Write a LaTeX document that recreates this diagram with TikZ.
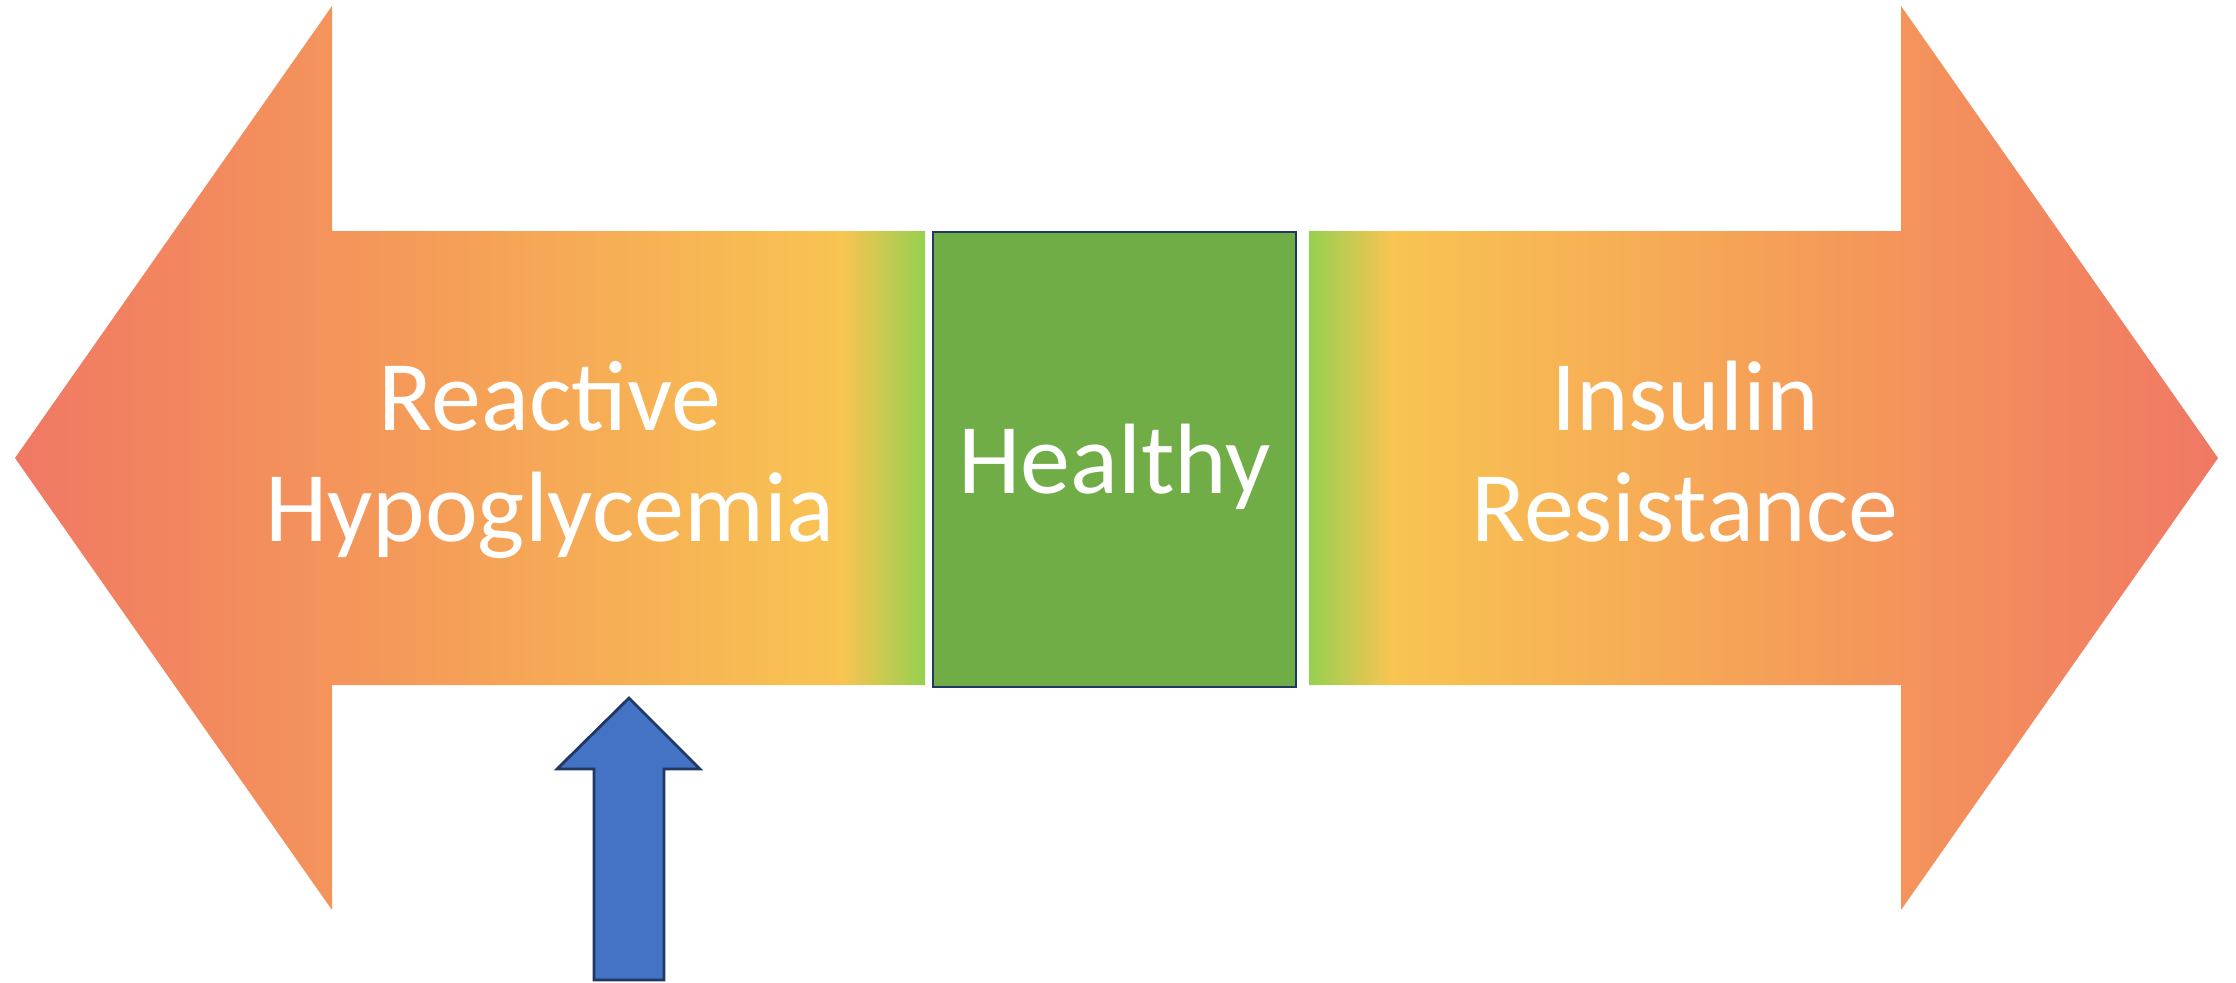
\documentclass[tikz,border=0pt]{standalone}
\usepackage{fontspec}
\setmainfont{Carlito}
\definecolor{cred}{RGB}{240,120,100}
\definecolor{corange}{RGB}{245,158,88}
\definecolor{cyellow}{RGB}{248,196,82}
\definecolor{cgreen}{RGB}{150,208,80}
\definecolor{boxgreen}{RGB}{112,173,71}
\definecolor{navy}{RGB}{31,56,100}
\definecolor{arrowblue}{RGB}{68,114,196}
\pgfdeclarehorizontalshading{leftgrad}{100bp}{color(0bp)=(cred); color(25bp)=(cred); color(48.5bp)=(corange); color(70.5bp)=(cyellow); color(75bp)=(cgreen); color(100bp)=(cgreen)}
\pgfdeclarehorizontalshading{rightgrad}{100bp}{color(0bp)=(cgreen); color(25bp)=(cgreen); color(29.5bp)=(cyellow); color(51.5bp)=(corange); color(75bp)=(cred); color(100bp)=(cred)}
\newcommand{\twolines}[2]{\begin{tabular}[t]{@{}c@{}}#1\\#2\end{tabular}}
\tikzset{
  bigfont/.style={font=\fontsize{50pt}{55.5pt}\selectfont},
  labeltext/.style={bigfont, text=white, inner sep=0pt, anchor=base},
  healthybox/.style={bigfont, fill=boxgreen, draw=navy, line width=1pt, text=white, minimum width=181.5pt, minimum height=227.5pt, inner sep=0pt, text height=33.5pt, text depth=0pt},
  bluearrow/.style={fill=arrowblue, draw=navy, line width=1.4pt, line join=miter}
}
\begin{document}
\begin{tikzpicture}[x=0.5pt,y=-0.5pt]
\useasboundingbox (0,0) rectangle (2236,982);
% left arrow
\path[shading=leftgrad] (15,458) -- (332,6) -- (332,231) -- (925,231) -- (925,685) -- (332,685) -- (332,910) -- cycle;
% right arrow
\path[shading=rightgrad] (2218,458) -- (1901,6) -- (1901,231) -- (1309,231) -- (1309,685) -- (1901,685) -- (1901,910) -- cycle;
% healthy box
\node[healthybox] (healthy) at (1114.5,459.5) {Healthy};
% labels
\node[labeltext] (reactive) at (550,430.7) {\twolines{Reactive}{Hypoglycemia}};
\node[labeltext] (insulin) at (1685,430.7) {\twolines{Insulin}{Resistance}};
% blue arrow
\draw[bluearrow] (629,698) -- (700,769) -- (664,769) -- (664,980) -- (594,980) -- (594,769) -- (557,769) -- cycle;
\end{tikzpicture}
\end{document}
